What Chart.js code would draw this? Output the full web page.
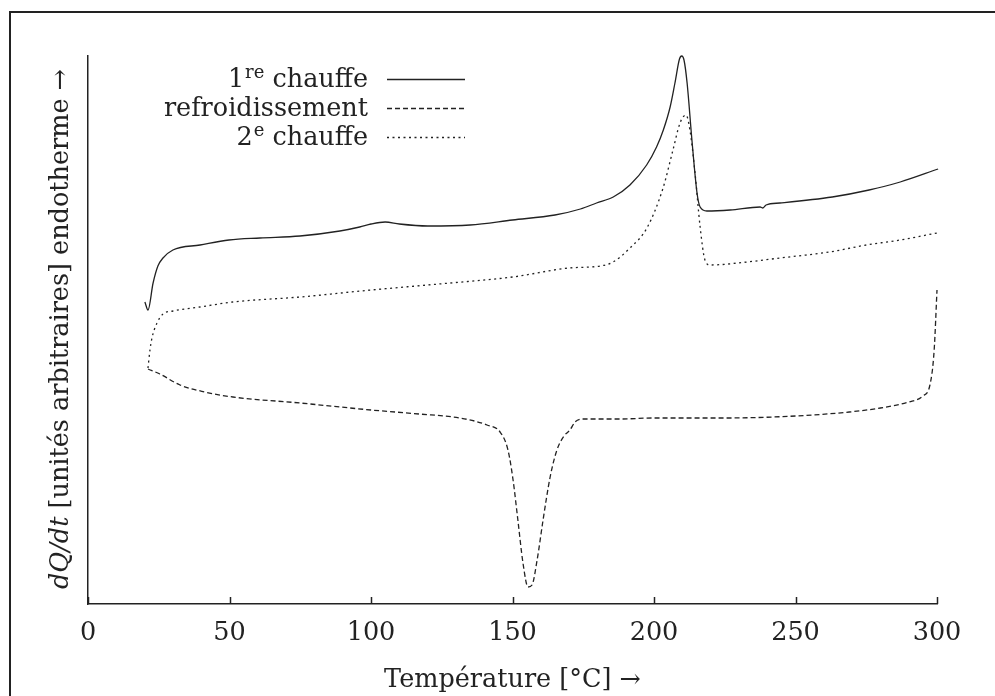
<!DOCTYPE html>
<html lang="fr">
<head>
<meta charset="utf-8">
<title>DSC</title>
<script src="https://cdn.jsdelivr.net/npm/chart.js@4.4.1/dist/chart.umd.min.js"></script>
<style>
  html, body { margin: 0; padding: 0; background: #fff; }
  canvas { display: block; }
</style>
</head>
<body>
<canvas id="chart" width="995" height="696"></canvas>
<script>
// Données (dQ/dt en unités arbitraires)
const tempChauffe1 = [20.1, 21.2, 23.0, 24.7, 26.5, 30.0, 39.6, 49.8, 60.8, 74.9, 89, 96, 100, 105, 110, 120, 135, 150, 165, 174, 179.7, 185.6, 191.5, 197.4, 200.9, 203.3, 205.7, 207.4, 209.0, 209.8, 210.6, 211.7, 213.4, 215.2, 216.3, 218.7, 226.9, 237.5, 238.5, 239.6, 244.5, 263, 276, 287, 300.4]
const valChauffe1 = [302, 294, 321, 338, 346, 354, 359, 364, 366, 368, 373, 377, 380, 382, 380, 378, 379, 384, 389, 395, 401, 407, 419, 439, 457, 474, 497, 521, 545, 548, 544, 521, 464, 411, 397, 393, 394, 397, 396, 399, 401, 407, 414, 422, 435]

const tempRefroid = [21.2, 25.4, 32.5, 41.3, 51.2, 74.9, 100, 117, 131.4, 141, 145.6, 148.4, 150.2, 151.9, 153.7, 155.5, 156.9, 158.7, 160.8, 163.3, 165.7, 168.2, 170.3, 172.1, 174.9, 188, 200, 225, 250, 269, 280, 290, 295, 297.5, 299, 300]
const valRefroid = [235, 230, 219, 212, 207, 201, 194, 190, 186, 179, 172, 154, 124, 84, 41, 17, 19, 44, 84, 127, 154, 168, 174, 182, 185, 185, 186, 186, 188, 192, 196, 202, 208, 219, 254, 314]

const tempChauffe2 = [21.2, 21.9, 22.6, 24.4, 26.5, 30, 39.6, 51.2, 74.9, 100, 124, 150, 170, 181, 185.5, 191.5, 197.5, 203.2, 206.7, 209.2, 211.3, 212.7, 214.5, 216.3, 218, 219.8, 232.9, 244.5, 262, 275, 287, 300]
const valChauffe2 = [236, 254, 266, 281, 290, 293, 297, 302, 307, 314, 320, 327, 336, 338, 342, 356, 376, 416, 454, 481, 489, 474, 431, 377, 344, 339, 342, 346, 352, 359, 364, 371]

const ticksX = [0, 50, 100, 150, 200, 250, 300]
// libellés : [texte, exposant, suite]
const legendes = [['1', 're', ' chauffe'], ['refroidissement', '', ''], ['2', 'e', ' chauffe']]
const tirets = [[], [5, 3], [2, 3.5]]

const ENCRE = '#222'
const POLICE = '"DejaVu Serif", serif'
const TAILLE = 25.5

function points(xs, ys) {
  return xs.map((x, i) => ({ x: x, y: ys[i] }))
}

// cadre extérieur
const cadre = {
  id: 'cadre',
  afterDraw(chart) {
    const ctx = chart.ctx
    ctx.save()
    ctx.strokeStyle = ENCRE
    ctx.lineWidth = 2
    ctx.strokeRect(10, 12, 1000, 700)
    ctx.restore()
  }
}

// graduations tournées vers l'intérieur
const graduations = {
  id: 'graduations',
  afterDraw(chart) {
    const sx = chart.scales.x
    const ctx = chart.ctx
    const bas = chart.chartArea.bottom
    ctx.save()
    ctx.strokeStyle = ENCRE
    ctx.lineWidth = 1.5
    sx.ticks.forEach(t => {
      const px = Math.round(sx.getPixelForValue(t.value)) + 0.5
      ctx.beginPath()
      ctx.moveTo(px, bas)
      ctx.lineTo(px, bas - 7)
      ctx.stroke()
    })
    ctx.restore()
  }
}

// titre de l'axe y, avec dQ/dt en italique
const titreY = {
  id: 'titreY',
  afterDraw(chart) {
    const ctx = chart.ctx
    const parts = [
      ['italic ' + TAILLE + 'px ' + POLICE, 'dQ/dt'],
      [TAILLE + 'px ' + POLICE, ' [unités arbitraires] endotherme →']
    ]
    ctx.save()
    let total = 0
    parts.forEach(p => { ctx.font = p[0]; total += ctx.measureText(p[1]).width })
    const centre = (chart.chartArea.top + chart.chartArea.bottom) / 2 - 1
    ctx.translate(68, centre)
    ctx.rotate(-Math.PI / 2)
    ctx.fillStyle = ENCRE
    ctx.textBaseline = 'alphabetic'
    ctx.textAlign = 'left'
    let x = -total / 2
    parts.forEach(p => {
      ctx.font = p[0]
      ctx.fillText(p[1], x, 0)
      x += ctx.measureText(p[1]).width
    })
    ctx.restore()
  }
}

// légende avec exposants
const legende = {
  id: 'legende',
  afterDraw(chart) {
    const ctx = chart.ctx
    const finTexte = 368
    const normal = TAILLE + 'px ' + POLICE
    const petit = '18px ' + POLICE
    ctx.save()
    ctx.fillStyle = ENCRE
    ctx.textBaseline = 'alphabetic'
    ctx.textAlign = 'left'
    chart.data.datasets.forEach((ds, i) => {
      const y = 79 + i * 29
      const [a, sup, b] = legendes[i]
      ctx.font = normal
      const wa = ctx.measureText(a).width
      const wb = ctx.measureText(b).width
      ctx.font = petit
      const ws = sup ? ctx.measureText(sup).width + 1 : 0
      let x = finTexte - (wa + ws + wb)
      ctx.font = normal
      ctx.fillText(a, x, y + 8)
      x += wa
      if (sup) {
        ctx.font = petit
        ctx.fillText(sup, x + 1, y - 1)
        x += ws
      }
      ctx.font = normal
      ctx.fillText(b, x, y + 8)

      ctx.strokeStyle = ds.borderColor
      ctx.lineWidth = ds.borderWidth
      ctx.setLineDash(ds.borderDash || [])
      ctx.beginPath()
      ctx.moveTo(387, y + 0.5)
      ctx.lineTo(465, y + 0.5)
      ctx.stroke()
      ctx.setLineDash([])
    })
    ctx.restore()
  }
}

function serie(i, xs, ys) {
  return {
    label: legendes[i].join(''),
    data: points(xs, ys),
    borderColor: ENCRE,
    borderWidth: 1.3,
    borderDash: tirets[i],
    borderJoinStyle: 'round',
    pointRadius: 0,
    cubicInterpolationMode: 'monotone',
    clip: false
  }
}

const chart = new Chart(document.getElementById('chart'), {
  type: 'line',
  data: {
    datasets: [
      serie(0, tempChauffe1, valChauffe1),
      serie(1, tempRefroid, valRefroid),
      serie(2, tempChauffe2, valChauffe2)
    ]
  },
  options: {
    responsive: false,
    animation: false,
    events: [],
    layout: { padding: { top: 56, right: 58, left: 0, bottom: 0 } },
    plugins: { legend: { display: false }, tooltip: { enabled: false } },
    scales: {
      x: {
        type: 'linear',
        min: 0,
        max: 300,
        afterBuildTicks: s => { s.ticks = ticksX.map(v => ({ value: v })) },
        afterFit: s => { s.height = 92 },
        grid: { drawOnChartArea: false, drawTicks: false },
        border: { display: true, color: ENCRE, width: 1.5 },
        ticks: { color: ENCRE, padding: 14, font: { family: POLICE, size: TAILLE } },
        title: {
          display: true,
          text: 'Température [°C] →',
          color: ENCRE,
          padding: { top: 0, bottom: 0 },
          font: { family: POLICE, size: TAILLE }
        }
      },
      y: {
        type: 'linear',
        min: 0,
        max: 548,
        afterFit: s => { s.width = 88 },
        grid: { drawOnChartArea: false, drawTicks: false },
        border: { display: true, color: ENCRE, width: 1.5 },
        ticks: { display: false }
      }
    }
  },
  plugins: [cadre, graduations, titreY, legende]
})
</script>
</body>
</html>
